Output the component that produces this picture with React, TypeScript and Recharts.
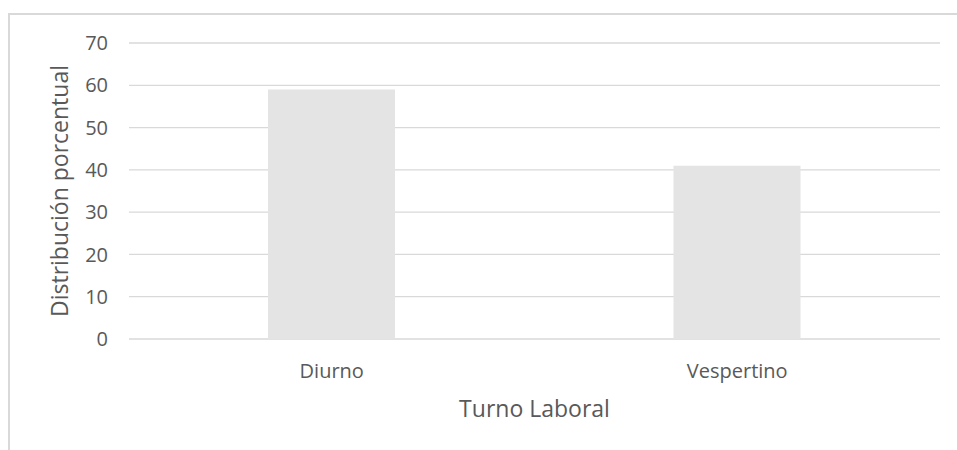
import { Bar, BarChart, CartesianGrid, XAxis, YAxis } from "recharts";

const turnos = ["Diurno", "Vespertino"];
const porcentajes = [59, 41];
const yTicks = [0, 10, 20, 30, 40, 50, 60, 70];

const data = turnos.map((turno, i) => ({ turno, valor: porcentajes[i] }));

const FONT = "'Open Sans', sans-serif";
const INK = "#595959";

const YTitle = ({ viewBox }: any) => {
  const x = 48.5;
  const y = viewBox.y + viewBox.height / 2;
  return (
    <text
      x={x}
      y={y}
      transform={`rotate(-90 ${x} ${y})`}
      textAnchor="middle"
      dominantBaseline="central"
      fill={INK}
      fontSize={23}
      fontFamily={FONT}
    >
      Distribución porcentual
    </text>
  );
};

const XTitle = ({ viewBox }: any) => (
  <text
    x={viewBox.x + viewBox.width / 2}
    y={viewBox.y + 78}
    textAnchor="middle"
    fill={INK}
    fontSize={23}
    fontFamily={FONT}
  >
    Turno Laboral
  </text>
);

export default function App() {
  // chart area frame runs past the right and bottom edges, so only two sides show
  return (
    <div
      style={{
        position: "fixed",
        left: 8,
        top: 13,
        right: 0,
        bottom: 0,
        borderTop: "2px solid #d9d9d9",
        borderLeft: "2px solid #d9d9d9",
        background: "#fff",
      }}
    >
      <BarChart
        width={947}
        height={430}
        data={data}
        margin={{ top: 28, right: 17, bottom: 76, left: 0 }}
        accessibilityLayer={false}
      >
        <CartesianGrid vertical={false} stroke="#d9d9d9" strokeWidth={1.3} />
        <XAxis
          dataKey="turno"
          axisLine={false}
          tickLine={false}
          tickSize={0}
          tickMargin={25}
          tick={{ fill: INK, fontSize: 20, fontFamily: FONT }}
          label={{ content: XTitle }}
        />
        <YAxis
          width={119}
          domain={[0, 70]}
          ticks={yTicks}
          axisLine={false}
          tickLine={false}
          tickSize={0}
          tickMargin={21}
          tick={{ fill: INK, fontSize: 20, fontFamily: FONT }}
          label={{ content: YTitle }}
        />
        <Bar dataKey="valor" fill="#e4e4e4" barSize={127} isAnimationActive={false} />
      </BarChart>
    </div>
  );
}
